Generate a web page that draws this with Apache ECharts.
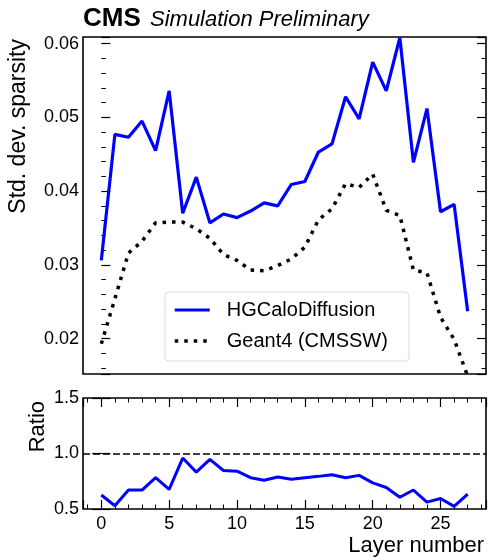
<!DOCTYPE html>
<html>
<head>
<meta charset="utf-8">
<script src="https://cdn.jsdelivr.net/npm/echarts@6.0.0/dist/echarts.min.js"></script>
<style>
  html, body { margin: 0; padding: 0; background: #fff; }
  #main { width: 488px; height: 560px; }
</style>
</head>
<body>
<div id="main"></div>
<script>
// layer index (x) and the values
var layers = [0, 1, 2, 3, 4, 5, 6, 7, 8, 9, 10, 11, 12, 13, 14, 15, 16, 17, 18, 19, 20, 21, 22, 23, 24, 25, 26, 27]
var hgcalo = [0.0306, 0.0477, 0.0473, 0.0495, 0.0455, 0.0536, 0.0370, 0.0419, 0.0357, 0.0369,
  0.0364, 0.0373, 0.0384, 0.0380, 0.0409, 0.0413, 0.0453, 0.0464, 0.0528, 0.0498,
  0.0575, 0.0536, 0.0608, 0.0439, 0.0512, 0.0372, 0.0382, 0.0237]
var geant4 = [0.0193, 0.0254, 0.0316, 0.0332, 0.0357, 0.0358, 0.0358, 0.0349, 0.0336, 0.0314,
  0.0306, 0.0293, 0.0292, 0.0299, 0.0308, 0.0324, 0.0361, 0.0376, 0.0410, 0.0405,
  0.0423, 0.0374, 0.0367, 0.0293, 0.0289, 0.0229, 0.0199, 0.0149]
var ratio = [0.626, 0.529, 0.671, 0.671, 0.782, 0.676, 0.959, 0.832, 0.947, 0.847,
  0.841, 0.782, 0.759, 0.788, 0.768, 0.782, 0.794, 0.809, 0.782, 0.803,
  0.735, 0.694, 0.606, 0.671, 0.562, 0.594, 0.524, 0.635]
var ratioRef = 1.0

var FONT = 'Liberation Sans'

function pairs(vals) {
  return layers.map(function (x, i) { return [x, vals[i]] })
}

var chart = echarts.init(document.getElementById('main'), null, { renderer: 'canvas' })

// shared tick styling (inward ticks like mplhep)
var majorTick = { show: true, inside: true, length: 9, lineStyle: { color: '#000', width: 1.2 } }
var minorTick = { show: true, splitNumber: 5, length: 4.5, lineStyle: { color: '#000', width: 1 } }
var noLine = { show: false }

var blueLine = { color: '#0000ff', width: 3.2 }
var dotLine = { color: '#000', width: 3.5, type: [3.5, 6], cap: 'butt' }

var option = {
  animation: false,
  backgroundColor: '#fff',
  grid: [
    { left: 83, top: 37, width: 403, height: 337, show: true, borderColor: '#000', borderWidth: 1.6, backgroundColor: 'transparent' },
    { left: 83, top: 398, width: 403, height: 111, show: true, borderColor: '#000', borderWidth: 1.6, backgroundColor: 'transparent' }
  ],
  xAxis: [
    // top panel: no ticks
    { type: 'value', gridIndex: 0, min: -1.35, max: 28.35, axisLine: noLine, axisTick: { show: false },
      axisLabel: { show: false }, splitLine: { show: false } },
    // bottom panel
    { type: 'value', gridIndex: 1, min: -1.35, max: 28.35, splitNumber: 6, position: 'bottom',
      axisLine: noLine, axisTick: majorTick, minorTick: minorTick, splitLine: { show: false },
      axisLabel: { color: '#000', fontFamily: FONT, fontSize: 18, margin: 6, showMinLabel: false, showMaxLabel: false } },
    { type: 'value', gridIndex: 1, min: -1.35, max: 28.35, splitNumber: 6, position: 'top',
      axisLine: noLine, axisTick: majorTick, minorTick: minorTick, splitLine: { show: false },
      axisLabel: { show: false } }
  ],
  yAxis: [
    { type: 'value', gridIndex: 0, min: 0.0152, max: 0.0609, splitNumber: 5, position: 'left',
      axisLine: noLine, axisTick: majorTick, minorTick: minorTick, splitLine: { show: false },
      axisLabel: { color: '#000', fontFamily: FONT, fontSize: 18, margin: 4, showMinLabel: false, showMaxLabel: false,
        formatter: function (v) { return v.toFixed(2) } } },
    { type: 'value', gridIndex: 0, min: 0.0152, max: 0.0609, splitNumber: 5, position: 'right',
      axisLine: noLine, axisTick: majorTick, minorTick: minorTick, splitLine: { show: false },
      axisLabel: { show: false } },
    { type: 'value', gridIndex: 1, min: 0.5, max: 1.5, interval: 0.5, position: 'left',
      axisLine: noLine, axisTick: majorTick, splitLine: { show: false },
      axisLabel: { color: '#000', fontFamily: FONT, fontSize: 18, margin: 4,
        formatter: function (v) { return v.toFixed(1) } } },
    { type: 'value', gridIndex: 1, min: 0.5, max: 1.5, interval: 0.5, position: 'right',
      axisLine: noLine, axisTick: majorTick, splitLine: { show: false }, axisLabel: { show: false } }
  ],
  legend: {
    orient: 'vertical',
    left: 165,
    top: 292,
    padding: [8, 21, 10, 8],
    itemWidth: 35,
    itemHeight: 14,
    itemGap: 11,
    itemStyle: { opacity: 0 },   // hide the symbol, keep only the line
    backgroundColor: 'rgba(255,255,255,0.85)',
    borderColor: '#dcdcdc',
    borderWidth: 1,
    borderRadius: 4,
    textStyle: { color: '#000', fontFamily: FONT, fontSize: 20, padding: [0, 0, 0, 12] },
    data: [
      { name: 'HGCaloDiffusion', lineStyle: blueLine },
      { name: 'Geant4 (CMSSW)', lineStyle: dotLine }
    ]
  },
  graphic: [
    { type: 'text', x: 83, y: 19, style: { text: 'CMS', font: 'bold 26px ' + FONT, fill: '#000', verticalAlign: 'middle' } },
    { type: 'text', x: 150, y: 20, style: { text: 'Simulation Preliminary', font: 'italic 22px ' + FONT, fill: '#000', verticalAlign: 'middle' } },
    { type: 'text', x: 19, y: 39, rotation: Math.PI / 2,
      style: { text: 'Std. dev. sparsity', font: '23px ' + FONT, fill: '#000', align: 'right', verticalAlign: 'middle' } },
    { type: 'text', x: 38, y: 401, rotation: Math.PI / 2,
      style: { text: 'Ratio', font: '22px ' + FONT, fill: '#000', align: 'right', verticalAlign: 'middle' } },
    { type: 'text', x: 484, y: 546,
      style: { text: 'Layer number', font: '22px ' + FONT, fill: '#000', align: 'right', verticalAlign: 'middle' } }
  ],
  series: [
    {
      name: 'HGCaloDiffusion', type: 'line', xAxisIndex: 0, yAxisIndex: 0,
      data: pairs(hgcalo), symbol: 'none', clip: true, z: 3,
      lineStyle: blueLine, itemStyle: { color: '#0000ff' }
    },
    {
      name: 'Geant4 (CMSSW)', type: 'line', xAxisIndex: 0, yAxisIndex: 0,
      data: pairs(geant4), symbol: 'none', clip: true, z: 2,
      lineStyle: dotLine, itemStyle: { color: '#000' }
    },
    {
      name: 'ratio', type: 'line', xAxisIndex: 1, yAxisIndex: 2,
      data: pairs(ratio), symbol: 'none', clip: true, z: 3,
      lineStyle: { color: '#0000ff', width: 3 },
      markLine: {
        silent: true, symbol: 'none', label: { show: false },
        lineStyle: { color: '#000', width: 1.5, type: [7, 3] },
        data: [{ yAxis: ratioRef }]
      }
    }
  ]
}

chart.setOption(option)
</script>
</body>
</html>
